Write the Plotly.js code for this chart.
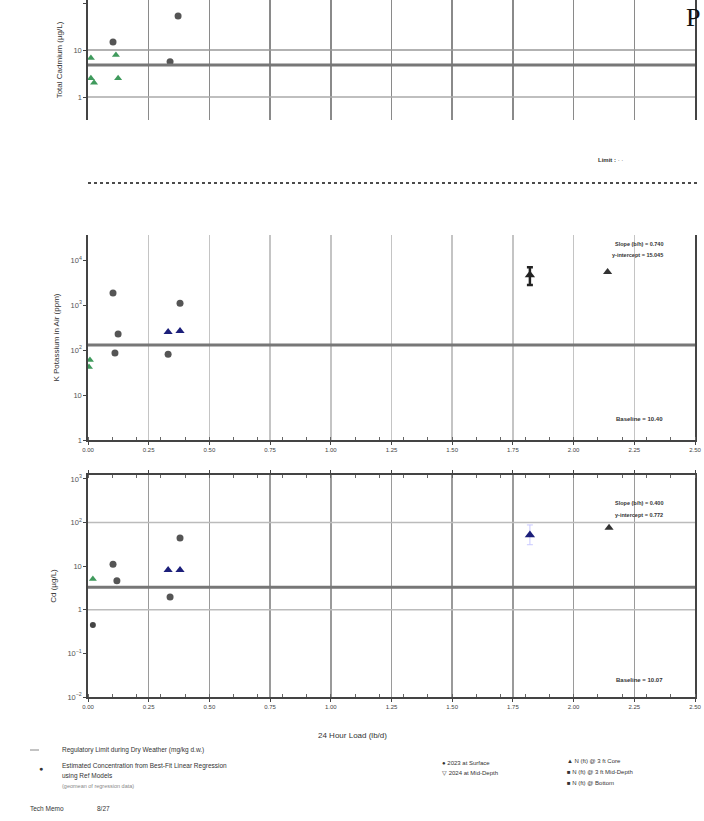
<!DOCTYPE html>
<html>
<head>
<meta charset="utf-8">
<script src="https://cdn.plot.ly/plotly-3.0.1.min.js"></script>
<style>
  html, body { margin: 0; padding: 0; background: #fff; }
  #chart { width: 704px; height: 821px; }
</style>
</head>
<body>
<div id="chart"></div>
<script>
// ---- data ----
const xTickVals = [0, 0.25, 0.5, 0.75, 1, 1.25, 1.5, 1.75, 2, 2.25, 2.5];
const xTickText = ["0.00", "0.25", "0.50", "0.75", "1.00", "1.25", "1.50", "1.75", "2.00", "2.25", "2.50"];

// Panel 1 – total cadmium
const cdSurfX = [0.371, 0.103, 0.338];
const cdSurfY = [53, 14.8, 5.6];
const cdGreenX = [0.012, 0.115, 0.012, 0.124, 0.025];
const cdGreenY = [6.8, 7.8, 2.5, 2.5, 2.0];
const cdLimit = 4.8;

// Panel 2 – potassium
const kSurfX = [0.103, 0.124, 0.379, 0.111, 0.330];
const kSurfY = [1850, 227, 1100, 86, 81];
const kNavyX = [0.330, 0.379];
const kNavyY = [250, 265];
const kGreenX = [0.008, 0.004];
const kGreenY = [60, 42];
const kFitX = [1.82];
const kFitY = [4650];
const kFitErrUp = [2300];
const kFitErrDown = [1880];
const kEstX = [2.14];
const kEstY = [5400];
const kLimit = 129;

// Panel 3 – cadmium (dissolved)
const dSurfX = [0.379, 0.103, 0.119, 0.338];
const dSurfY = [44, 11, 4.6, 1.95];
const dGreenX = [0.02];
const dGreenY = [5.1];
const dDarkX = [0.02];
const dDarkY = [0.45];
const dNavyX = [0.330, 0.379];
const dNavyY = [8.2, 8.2];
const dFitX = [1.82];
const dFitY = [52];
const dFitErrUp = [36];
const dFitErrDown = [21];
const dEstX = [2.146];
const dEstY = [76];
const dLimit = 3.3;
const dGrid = [1, 100];

// ---- geometry helpers (pixel -> paper) ----
const W = 704, H = 821;
const px = p => p / W;
const py = p => 1 - p / H;
const xDom = [px(88), px(695)];

const FONT = "Liberation Sans, Arial, sans-serif";
const grey = "#555";
const green = "#3f9a5c";
const navy = "#1c1f7a";

function mk(x, y, xa, ya, symbol, color, size, extra) {
  return Object.assign({
    type: "scatter", mode: "markers", x: x, y: y, xaxis: xa, yaxis: ya,
    marker: {symbol: symbol, color: color, size: size},
    hoverinfo: "x+y", showlegend: false
  }, extra || {});
}

const traces = [
  mk(cdSurfX, cdSurfY, "x", "y", "circle", grey, 7),
  mk(cdGreenX, cdGreenY, "x", "y", "triangle-up", green, 7),

  mk(kSurfX, kSurfY, "x2", "y2", "circle", grey, 7),
  mk(kNavyX, kNavyY, "x2", "y2", "triangle-up", navy, 8),
  mk(kGreenX, kGreenY, "x2", "y2", "triangle-up", green, 7),
  mk(kFitX, kFitY, "x2", "y2", "triangle-up", "#222", 9,
     {error_y: {type: "data", array: kFitErrUp, arrayminus: kFitErrDown, color: "#222", thickness: 2.5, width: 3}}),
  mk(kEstX, kEstY, "x2", "y2", "triangle-up", "#333", 8),

  mk(dSurfX, dSurfY, "x3", "y3", "circle", grey, 7),
  mk(dGreenX, dGreenY, "x3", "y3", "triangle-up", green, 7),
  mk(dDarkX, dDarkY, "x3", "y3", "circle", "#444", 6),
  mk(dNavyX, dNavyY, "x3", "y3", "triangle-up", navy, 8),
  mk(dFitX, dFitY, "x3", "y3", "triangle-up", navy, 9,
     {error_y: {type: "data", array: dFitErrUp, arrayminus: dFitErrDown, color: "#c8c8ff", thickness: 1, width: 3}}),
  mk(dEstX, dEstY, "x3", "y3", "triangle-up", "#333", 8)
];

function xAxis(anchor, labels, gridcolor, line, mirror) {
  return {
    domain: xDom, anchor: anchor, range: [0, 2.5],
    tickvals: xTickVals, ticktext: xTickText, showticklabels: labels,
    showgrid: true, gridcolor: gridcolor, gridwidth: 1.5,
    showline: line, linecolor: "#444", linewidth: 2, mirror: mirror,
    ticks: labels ? "outside" : "", ticklen: 3, tickcolor: "#444",
    minor: labels ? {ticks: "inside", ticklen: 3, nticks: 6, tickcolor: "#666", showgrid: false} : undefined,
    tickfont: {family: FONT, size: 6, color: "#444"}, zeroline: false
  };
}
function yAxis(anchor, dom, range, title) {
  return {
    type: "log", domain: dom, anchor: anchor, range: range, dtick: 1,
    exponentformat: "power", showgrid: false,
    showline: true, linecolor: "#444", linewidth: 2, mirror: true,
    ticks: "outside", ticklen: 3, tickcolor: "#444",
    tickfont: {family: FONT, size: 6, color: "#555"},
    title: {text: title, standoff: 10, font: {family: FONT, size: 8, color: "#333"}},
    zeroline: false
  };
}

function hline(yref, v, color, width, dash) {
  return {type: "line", xref: "paper", yref: yref, x0: xDom[0], x1: xDom[1], y0: v, y1: v,
          line: {color: color, width: width, dash: dash || "solid"}};
}

const shapes = [
  hline("y", cdLimit, "#777", 3),
  hline("y", 10, "#999", 1.5),
  hline("y", 1, "#aaa", 1.5),
  hline("y2", kLimit, "#777", 3),
  hline("y3", dLimit, "#777", 3),
  hline("y3", dGrid[0], "#bbb", 1.5),
  hline("y3", dGrid[1], "#bbb", 1.5),
  // dotted rule between the first two panels
  {type: "line", xref: "paper", yref: "paper", x0: px(88), x1: px(700), y0: py(183), y1: py(183),
   line: {color: "#111", width: 1.5, dash: "dot"}},
  // legend line sample
  {type: "line", xref: "paper", yref: "paper", x0: px(30), x1: px(46), y0: py(750), y1: py(750),
   line: {color: "#888", width: 1, dash: "dash"}}
];

function txt(x, y, text, size, opts) {
  return Object.assign({xref: "paper", yref: "paper", x: px(x), y: py(y), text: text,
    showarrow: false, xanchor: "left", yanchor: "middle",
    font: {family: FONT, size: size, color: "#333"}}, opts || {});
}

const annotations = [
  txt(684, 18, "P", 26, {font: {family: "Liberation Serif, serif", size: 26, color: "#111"}}),
  txt(596, 160, "<b>Limit :</b> · ·", 6),
  txt(665, 244, "<b>Slope (b/h) = 0.740</b>", 5.5, {xanchor: "right"}),
  txt(665, 255, "<b>y-intercept = 15.045</b>", 5.5, {xanchor: "right"}),
  txt(665, 419, "<b>Baseline = 10.40</b>", 6, {xanchor: "right"}),
  txt(665, 503, "<b>Slope (b/h) = 0.400</b>", 5.5, {xanchor: "right"}),
  txt(665, 515, "<b>y-intercept = 0.772</b>", 5.5, {xanchor: "right"}),
  txt(665, 680, "<b>Baseline = 10.07</b>", 6, {xanchor: "right"}),
  txt(352, 735, "24 Hour Load (lb/d)", 8, {xanchor: "center"}),
  // left legend
  txt(60, 750, "Regulatory Limit during Dry Weather (mg/kg d.w.)", 6.5),
  txt(41, 768, "●", 7, {xanchor: "center", font: {family: FONT, size: 7, color: "#333"}}),
  txt(60, 766, "Estimated Concentration from Best-Fit Linear Regression", 6.5),
  txt(60, 776, "using Ref Models", 6.5),
  txt(60, 786, "(geomean of regression data)", 5.5, {font: {family: FONT, size: 5.5, color: "#888"}}),
  txt(28, 808, "Tech Memo", 6.5),
  txt(95, 808, "8/27", 6.5),
  // right legend
  txt(440, 763, "● 2023 at Surface", 6),
  txt(440, 773, "▽ 2024 at Mid-Depth", 6),
  txt(565, 761, "▲ N (ft) @ 3 ft Core", 6),
  txt(565, 772, "■ N (ft) @ 3 ft Mid-Depth", 6),
  txt(565, 783, "■ N (ft) @ Bottom", 6)
];

const layout = {
  width: W, height: H,
  margin: {l: 0, r: 0, t: 0, b: 0},
  paper_bgcolor: "#fff", plot_bgcolor: "#fff",
  showlegend: false,
  font: {family: FONT, size: 7, color: "#333"},
  xaxis: xAxis("y", false, "#8a8a8a", false, false),
  xaxis2: xAxis("y2", true, "#c4c4c4", true, false),
  xaxis3: xAxis("y3", true, "#9a9a9a", true, "ticks"),
  yaxis: yAxis("x", [py(120), 1], [-0.489, 2.064], "Total Cadmium (µg/L)"),
  yaxis2: yAxis("x2", [py(440), py(235)], [0, 4.556], "K Potassium in Air (ppm)"),
  yaxis3: yAxis("x3", [py(697), py(475)], [-2, 3.09], "Cd (µg/L)"),
  shapes: shapes,
  annotations: annotations
};

Plotly.newPlot("chart", traces, layout, {displayModeBar: false, staticPlot: true});
</script>
</body>
</html>
